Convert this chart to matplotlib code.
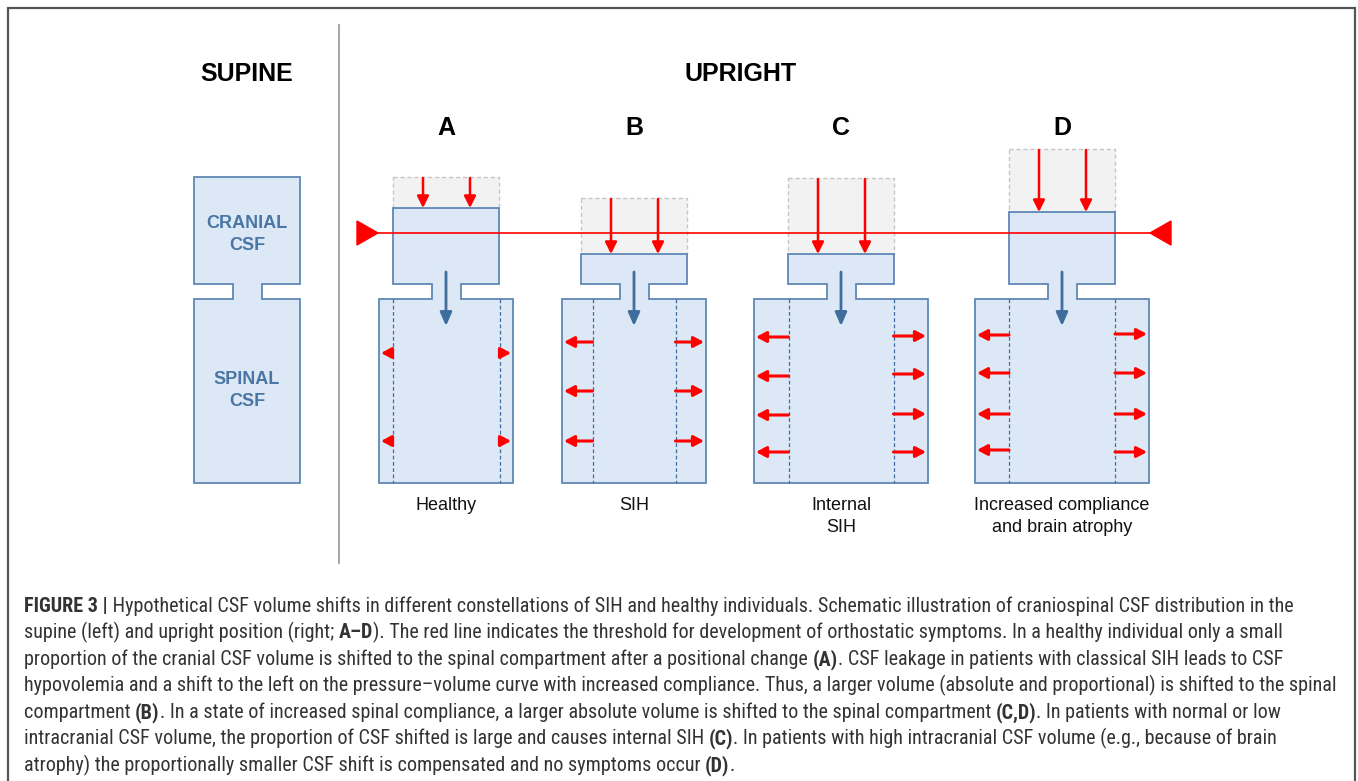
import numpy as np
import matplotlib
matplotlib.use("Agg")
import matplotlib.pyplot as plt
from matplotlib.patches import Polygon, Rectangle
from matplotlib import font_manager

# panels of the upright position
panel_letters = ['A', 'B', 'C', 'D']
panel_labels = ['Healthy', 'SIH', 'Internal\nSIH', 'Increased compliance\nand brain atrophy']
# cranial CSF volume before standing up (px of box height) and the part shifted down
cranial_volume = [107, 86, 106, 135]
shifted_volume = [31, 56, 76, 63]
# spinal compartment: width after the shift and the original (dashed) width
spinal_width = [134, 144, 174, 174]
spinal_inner = [107, 83, 105, 106]
# heights of the red leak arrows in the spinal compartment
leak_rows_left = [[353, 441], [342, 391, 441], [337, 376, 415, 452], [335, 373, 414, 450]]
leak_rows_right = [[353, 441], [342, 391, 441], [336, 374, 414, 452], [334, 373, 414, 452]]

caption = [
    [("FIGURE 3 |", True), (" Hypothetical CSF volume shifts in different constellations of SIH and healthy individuals. "
                            "Schematic illustration of craniospinal CSF distribution in the", False)],
    [("supine (left) and upright position (right; ", False), ("A\u2013D", True),
     ("). The red line indicates the threshold for development of orthostatic symptoms. In a healthy individual only a small", False)],
    [("proportion of the cranial CSF volume is shifted to the spinal compartment after a positional change ", False),
     ("(A)", True), (". CSF leakage in patients with classical SIH leads to CSF", False)],
    [("hypovolemia and a shift to the left on the pressure\u2013volume curve with increased compliance. Thus, a larger "
      "volume (absolute and proportional) is shifted to the spinal", False)],
    [("compartment ", False), ("(B)", True),
     (". In a state of increased spinal compliance, a larger absolute volume is shifted to the spinal compartment ", False),
     ("(C,D)", True), (". In patients with normal or low", False)],
    [("intracranial CSF volume, the proportion of CSF shifted is large and causes internal SIH ", False), ("(C)", True),
     (". In patients with high intracranial CSF volume (e.g., because of brain", False)],
    [("atrophy) the proportionally smaller CSF shift is compensated and no symptoms occur ", False), ("(D)", True),
     (".", False)],
]

# colours
FILL = '#dce8f5'
EDGE = '#5f88b5'
DARKBLUE = '#3f6d9e'
TEXTBLUE = '#4a76a5'
RED = '#ff0000'

W, H = 1358, 781
fig = plt.figure(figsize=(W / 100, H / 100), dpi=100)
ax = fig.add_axes([0, 0, 1, 1])
ax.set_xlim(0, W)
ax.set_ylim(H, 0)
ax.axis('off')

plt.rcParams['font.family'] = ['Liberation Sans', 'DejaVu Sans']

# frame and divider
ax.plot([8, 8, 1355, 1355], [H, 8, 8, H], color='#555555', lw=1.6, solid_joinstyle='miter')
ax.plot([339, 339], [25, 563], color='#a0a0a0', lw=1.3)

cran_bottom, neck_bottom, spine_bottom = 284, 299, 483
cran_half, neck_half = 53, 14.5


def csf_shape(c, top, swidth):
    s = swidth / 2
    pts = [(c - cran_half, top), (c + cran_half, top), (c + cran_half, cran_bottom),
           (c + neck_half, cran_bottom), (c + neck_half, neck_bottom), (c + s, neck_bottom),
           (c + s, spine_bottom), (c - s, spine_bottom), (c - s, neck_bottom),
           (c - neck_half, neck_bottom), (c - neck_half, cran_bottom), (c - cran_half, cran_bottom)]
    ax.add_patch(Polygon(pts, closed=True, facecolor=FILL, edgecolor=EDGE, lw=1.3, zorder=2))


def arrow(x0, y0, x1, y1, color, lw=2, hl=0.7, hw=0.35, ms=10):
    ax.annotate('', xy=(x1, y1), xytext=(x0, y0),
                arrowprops=dict(arrowstyle=f'-|>,head_length={hl},head_width={hw}', color=color,
                                lw=lw, mutation_scale=ms, shrinkA=0, shrinkB=0), zorder=5)


# supine
csf_shape(247, 177, 106)
for y, t in [(223, 'CRANIAL'), (245, 'CSF'), (380, 'SPINAL'), (402, 'CSF')]:
    ax.text(247, y, t, ha='center', va='center', fontsize=13, fontweight='bold', color=TEXTBLUE, zorder=3)
ax.text(247, 74, 'SUPINE', ha='center', va='center', fontsize=18, fontweight='bold', color='black')
ax.text(741, 74, 'UPRIGHT', ha='center', va='center', fontsize=18, fontweight='bold', color='black')

# upright panels
centers = [446, 634, 841, 1062]
for i, c in enumerate(centers):
    cran_top = cran_bottom - cranial_volume[i] + shifted_volume[i]
    shift_top = cran_top - shifted_volume[i]
    ax.add_patch(Rectangle((c - cran_half, shift_top), 2 * cran_half, shifted_volume[i],
                           facecolor='#f2f2f2', edgecolor='#c6c6c6', lw=1.0, ls=(0, (3, 2)), zorder=1))
    csf_shape(c, cran_top, spinal_width[i])
    # inner dashed borders of original spinal width
    d = spinal_inner[i] / 2
    for xx in (c - d, c + d):
        ax.plot([xx, xx], [neck_bottom, spine_bottom], color=DARKBLUE, lw=0.9, ls=(0, (3, 2)), zorder=3)
    # red arrows pushing the CSF down
    for dx in (-23, 24):
        arrow(c + dx, shift_top + 1, c + dx, cran_top, RED, lw=1.8)
    # blue shift arrow
    arrow(c, 272, c, 326, DARKBLUE, lw=2.0, hl=0.8, hw=0.35, ms=10)
    # leak arrows
    s = spinal_width[i] / 2
    for y in leak_rows_left[i]:
        arrow(c - d, y, c - s + 2, y, RED, lw=2.2, hl=0.6, hw=0.32, ms=10)
    for y in leak_rows_right[i]:
        arrow(c + d, y, c + s - 2, y, RED, lw=2.2, hl=0.6, hw=0.32, ms=10)
    ax.text(c, 128, panel_letters[i], ha='center', va='center', fontsize=18, fontweight='bold')
    for k, line in enumerate(panel_labels[i].split('\n')):
        ax.text(c, 506 + 21 * k, line, ha='center', va='center', fontsize=13, color='#111111')

# threshold line with triangles
ax.plot([377, 1151], [233, 233], color=RED, lw=1.2, zorder=6)
ax.add_patch(Polygon([(357, 221), (357, 245), (378, 233)], closed=True, color=RED, zorder=6))
ax.add_patch(Polygon([(1171, 221), (1171, 245), (1150, 233)], closed=True, color=RED, zorder=6))

# caption font: a narrow sans if one is installed
cap_font = {'family': 'Liberation Sans'}
names = {f.name for f in font_manager.fontManager.ttflist}
stretches = {(f.name, f.stretch) for f in font_manager.fontManager.ttflist}
for name in ['Liberation Sans Narrow', 'Roboto Condensed', 'Open Sans Condensed', 'Noto Sans Condensed',
             'DejaVu Sans Condensed']:
    if name in names:
        cap_font = {'family': name}
        break
else:
    for name in ['Roboto', 'Noto Sans', 'Open Sans', 'DejaVu Sans']:
        if (name, 'condensed') in stretches:
            cap_font = {'family': name, 'stretch': 'condensed'}
            break
        if (name, 'semi-condensed') in stretches:
            cap_font = {'family': name, 'stretch': 'semi-condensed'}
            break

renderer = fig.canvas.get_renderer()


def caption_line(y, parts, size, draw=True):
    x = 24
    arts = []
    for txt, bold in parts:
        t = ax.text(x, y, txt, ha='left', va='baseline', fontsize=size,
                    fontweight='bold' if bold else 'normal', color='#333333', **cap_font)
        x = x + t.get_window_extent(renderer).width
        arts.append(t)
    if not draw:
        for t in arts:
            t.remove()
    return x - 24


# fit the widest line to its width in the figure
probe = caption_line(700, caption[3], 12, draw=False)
cap_size = min(15, 12 * 1313 / probe)

for k, parts in enumerate(caption):
    caption_line(612 + 26.5 * k, parts, cap_size)

fig.savefig('out.png', dpi=100)
